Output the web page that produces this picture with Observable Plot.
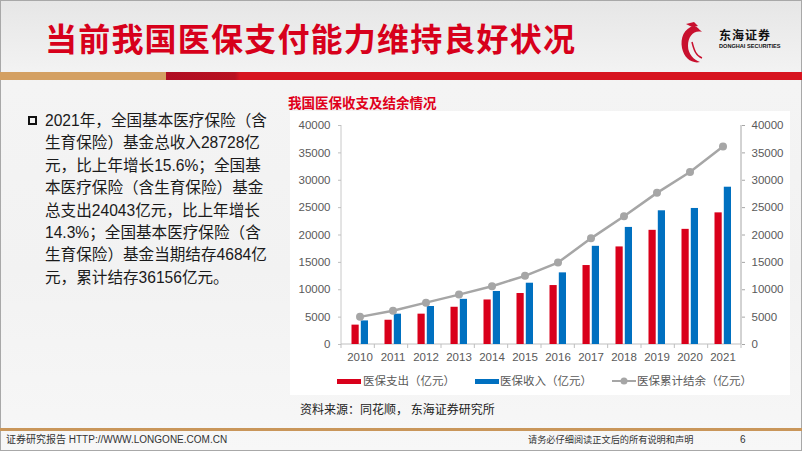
<!DOCTYPE html>
<html><head><meta charset="utf-8">
<script src="https://cdn.jsdelivr.net/npm/d3@7"></script>
<script src="https://cdn.jsdelivr.net/npm/@observablehq/plot@0.6"></script>
<style>
html,body{margin:0;padding:0;}
body{width:802px;height:451px;position:relative;overflow:hidden;font-family:"Liberation Sans","Noto Sans CJK SC",sans-serif;
 background:linear-gradient(180deg,#e6e6e6 0%,#f4f4f4 18%,#f2f2f2 60%,#f7f7f7 100%);}
.abs{position:absolute;white-space:nowrap;}
#frame{position:absolute;left:0;top:0;width:800px;height:449px;border:1px solid #a8a8a8;pointer-events:none;}
#title{left:45px;top:20px;font-size:32px;line-height:34px;font-weight:700;color:#d7001b;font-family:"Noto Sans CJK SC",sans-serif;letter-spacing:1.2px;}
#bar1{left:0;top:72px;width:802px;height:8px;background:linear-gradient(90deg,#d4a062 0,#d4a062 166px,#b00d22 166px,#b8101f 235px,#d7141f 240px,#d7141f 100%);}
#bullet{left:28px;top:116px;width:9px;height:9px;box-sizing:border-box;border:2px solid #111;}
#para{left:45px;top:110px;font-size:15.6px;line-height:22.4px;color:#1a1a1a;font-family:"Liberation Sans","Noto Sans CJK SC",sans-serif;}
#chartbox{left:290px;top:111px;width:500px;height:284px;background:#fff;}
#subtitle{left:288px;top:94px;font-size:13.5px;line-height:16px;font-weight:700;color:#e0001b;font-family:"Noto Sans CJK SC",sans-serif;}
#plot{left:290px;top:112px;}
.leg{font-size:11.5px;color:#595959;line-height:14px;font-family:"Liberation Sans","Noto Sans CJK SC",sans-serif;}
#source{left:300px;top:402px;font-size:12px;line-height:14px;color:#222;font-family:"Noto Sans CJK SC",sans-serif;}
#bar2{left:0;top:428px;width:802px;height:3px;background:#c9965a;}
.foot{font-size:10px;line-height:12px;color:#333;top:434px;}
</style></head><body>
<div id="frame"></div>
<div class="abs" id="title"></div>
<svg class="abs" style="left:676px;top:18px" width="120" height="52" id="logo">
  <path d="M18 8 C8 10 4 20 6 30 C8 40 16 46 24 44 C18 42 12 36 12 28 C12 18 18 12 26 14 C22 10 20 8 18 8 Z" fill="#c8102e"/>
  <path d="M10 6 L18 4 L22 8 L16 9 Z" fill="#c8102e"/>
  <path d="M16 24 C18 32 20 38 26 40" stroke="#c8102e" stroke-width="1.5" fill="none"/>
  <text x="43" y="22" font-size="12" font-weight="700" fill="#111" letter-spacing="1" font-family="Noto Sans CJK SC">东海证券</text>
  <text x="43" y="30" font-size="5.6" font-weight="700" fill="#111" font-family="Liberation Sans">DONGHAI SECURITIES</text>
</svg>
<div class="abs" id="bar1"></div>
<div class="abs" id="bullet"></div>
<div class="abs" id="para"></div>
<div class="abs" id="chartbox"></div>
<div class="abs" id="subtitle"></div>
<div class="abs" id="plot"></div>
<div class="abs" id="legend"></div>
<div class="abs" id="source"></div>
<div class="abs" id="bar2"></div>
<div class="abs foot" id="footL" style="left:6px"></div>
<div class="abs foot" id="footR" style="left:528px;font-size:9.2px"></div>
<div class="abs foot" id="footN" style="left:740px"></div>
<script>
// ---- data ----
const years = ["2010","2011","2012","2013","2014","2015","2016","2017","2018","2019","2020","2021"];
const expenditure = [3538, 4431, 5544, 6801, 8134, 9312, 10767, 14422, 17822, 20854, 21032, 24043];
const income = [4309, 5539, 6939, 8248, 9687, 11193, 13084, 17932, 21384, 24421, 24846, 28728];
const balance = [5047, 6180, 7644, 9116, 10645, 12543, 14965, 19386, 23440, 27697, 31500, 36156];
const yTicks = [0, 5000, 10000, 15000, 20000, 25000, 30000, 35000, 40000];
const seriesLabels = ["医保支出（亿元）", "医保收入（亿元）", "医保累计结余（亿元）"];
const seriesColors = ["#d9001b", "#0070c0", "#a6a6a6"];
const titleText = "当前我国医保支付能力维持良好状况";
const chartTitle = "我国医保收支及结余情况";
const sourceText = "资料来源：同花顺， 东海证券研究所";
const paraLines = [
  "2021年，全国基本医疗保险（含",
  "生育保险）基金总收入28728亿",
  "元，比上年增长15.6%；全国基",
  "本医疗保险（含生育保险）基金",
  "总支出24043亿元，比上年增长",
  "14.3%；全国基本医疗保险（含",
  "生育保险）基金当期结存4684亿",
  "元，累计结存36156亿元。"
];
const footLeft = "证券研究报告 HTTP://WWW.LONGONE.COM.CN";
const footRight = "请务必仔细阅读正文后的所有说明和声明";
const pageNo = "6";

// ---- text ----
document.getElementById("title").textContent = titleText;
document.getElementById("subtitle").textContent = chartTitle;
document.getElementById("source").textContent = sourceText;
document.getElementById("para").innerHTML = paraLines.join("<br>");
document.getElementById("footL").textContent = footLeft;
document.getElementById("footR").textContent = footRight;
document.getElementById("footN").textContent = pageNo;

// ---- chart ----
const rows = years.map((yr, i) => ({year: yr, exp: expenditure[i], inc: income[i], bal: balance[i]}));

function frameLines(index, scales, values, dim) {
  const L = dim.marginLeft, R = dim.width - dim.marginRight;
  const T = dim.marginTop, B = dim.height - dim.marginBottom;
  const g = d3.create("svg:g").attr("fill", "none");
  g.append("line").attr("x1", L).attr("x2", L).attr("y1", T).attr("y2", B).attr("stroke", "#c8c8c8");
  g.append("line").attr("x1", R).attr("x2", R).attr("y1", T).attr("y2", B).attr("stroke", "#a6a6a6");
  g.append("line").attr("x1", L).attr("x2", R).attr("y1", B).attr("y2", B).attr("stroke", "#bfbfbf");
  const n = years.length, bw = (R - L) / n;
  for (let i = 0; i <= n; i++) {
    g.append("line").attr("x1", L + i * bw).attr("x2", L + i * bw).attr("y1", B).attr("y2", B + 4).attr("stroke", "#bfbfbf");
  }
  return g.node();
}

const plot = Plot.plot({
  width: 500, height: 262,
  marginLeft: 51, marginRight: 49, marginTop: 13, marginBottom: 30,
  x: {type: "band", domain: years, padding: 0},
  y: {domain: [0, 40000]},
  style: {fontFamily: "Liberation Sans, Arial, sans-serif", fontSize: "11.5px", color: "#595959", background: "transparent", overflow: "visible"},
  marks: [
    frameLines,
    Plot.barY(rows, {x: "year", y: "exp", fill: seriesColors[0], insetLeft: 8.5, insetRight: 17.3}),
    Plot.barY(rows, {x: "year", y: "inc", fill: seriesColors[1], insetLeft: 17.8, insetRight: 8}),
    Plot.line(rows, {x: "year", y: "bal", stroke: seriesColors[2], strokeWidth: 2.5}),
    Plot.dot(rows, {x: "year", y: "bal", r: 4, fill: seriesColors[2]}),
    Plot.axisY({anchor: "left", ticks: yTicks, tickFormat: d => String(d), tickSize: 3, tickPadding: 8, stroke: "#bfbfbf", fill: "#595959", label: null}),
    Plot.axisY({anchor: "right", ticks: yTicks, tickFormat: d => String(d), tickSize: 3, tickPadding: 7, stroke: "#a6a6a6", fill: "#595959", label: null}),
    Plot.axisX({tickSize: 0, tickPadding: 8, fill: "#595959", label: null})
  ]
});
document.getElementById("plot").appendChild(plot);

// ---- legend ----
const legend = document.getElementById("legend");
const legPos = [[337, 363], [475, 500], [612, 637]];
seriesLabels.forEach((lab, i) => {
  const [sx, tx] = legPos[i];
  if (i < 2) {
    const sw = document.createElement("div");
    sw.className = "abs";
    sw.style.cssText = `left:${sx}px;top:378.5px;width:24px;height:5px;background:${seriesColors[i]}`;
    legend.appendChild(sw);
  } else {
    const s = document.createElementNS("http://www.w3.org/2000/svg", "svg");
    s.setAttribute("class", "abs");
    s.setAttribute("width", 24); s.setAttribute("height", 10);
    s.style.left = sx + "px"; s.style.top = "376px";
    s.innerHTML = `<line x1="0" x2="24" y1="5" y2="5" stroke="${seriesColors[2]}" stroke-width="2"/><circle cx="12" cy="5" r="3.5" fill="${seriesColors[2]}"/>`;
    legend.appendChild(s);
  }
  const t = document.createElement("div");
  t.className = "abs leg";
  t.style.left = tx + "px"; t.style.top = "374px";
  t.textContent = lab;
  legend.appendChild(t);
});
</script>
</body></html>
